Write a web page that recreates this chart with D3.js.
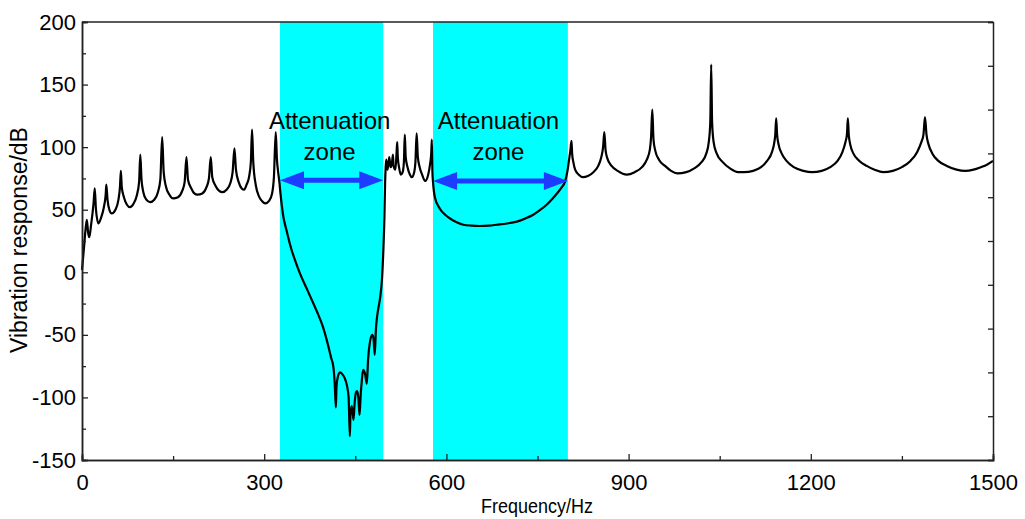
<!DOCTYPE html>
<html>
<head>
<meta charset="utf-8">
<script src="https://cdn.jsdelivr.net/npm/d3@7"></script>
<style>
  body { margin: 0; background: #fff; }
  svg text { font-family: "Liberation Sans", Arial, Helvetica, sans-serif; }
</style>
</head>
<body>
<div id="chart"></div>
<script>
// frequency bands where the response drops (Hz)
const bands = [[326, 496], [578, 800]]

// response curve, [Hz, dB]
const lowBand = [
  [0, 2], [3, 18], [6, 35], [8, 42], [10, 32], [12, 28], [15, 38], [19, 55], [21, 67], [23, 50],
  [27, 39], [31, 43], [36, 52], [39, 62], [40, 70], [42, 58], [45, 50], [49, 47], [55, 50], [60, 58],
  [62.5, 68], [64, 81], [65.5, 68], [69, 60], [74, 54], [79, 52], [85, 55], [90, 61], [94, 72], [96, 94],
  [98, 74], [101, 64], [106, 58], [112, 56], [119, 58], [125, 64], [129, 74], [132, 108], [134.5, 80], [138, 69],
  [144, 62], [150, 59], [158, 60], [165, 65], [169, 72], [172, 92], [174.5, 74], [180, 67], [185, 63], [190, 62],
  [198, 63], [205, 68], [209, 75], [212, 92], [214.5, 76], [220, 69], [226, 65], [231, 64], [238, 66], [244, 71],
  [248, 80], [251, 99], [253.5, 82], [258, 72], [263, 67], [267, 66], [271, 70], [275, 76], [278, 88], [280, 114],
  [282, 88], [286, 70], [292, 60], [298, 56], [302, 55], [308, 57], [313, 63], [316, 76], [319, 112]
]
const zone1 = [
  [321, 90], [323, 80], [325, 72], [327, 62], [331, 46], [337, 33], [345, 18], [352, 8], [359, -1], [370, -13],
  [381, -25], [390, -35], [397, -44], [404, -56], [410, -68], [414, -76], [416, -88], [418, -108], [419, -92], [421, -84],
  [425, -80], [428, -81], [432, -84], [436, -90], [439, -100], [441, -131], [442, -114], [444, -107], [445, -109], [447, -118],
  [449, -104], [451, -96], [453, -95], [455, -100], [457, -114], [459, -97], [461, -85], [463, -78], [466, -81], [469, -89],
  [471, -70], [474, -56], [478, -50], [480, -53], [482, -66], [484, -45], [486, -35], [489, -26], [491, -20], [494, -5],
  [496, 15], [498, 45]
]
const gap = [
  [499, 70], [500, 84], [501, 90], [502, 86], [503, 82], [505, 88], [506, 92], [508, 84], [510, 86], [512, 94],
  [513, 85], [516, 82], [518, 96], [519, 104], [520, 92], [522, 84], [525, 78], [528, 80], [530, 88], [531.5, 110],
  [533, 92], [536, 84], [540, 78], [543, 76], [547, 80], [549, 88], [551, 111], [553, 92], [556, 84], [560, 78],
  [565, 73], [570, 78], [573, 86], [575, 95], [576, 106]
]
const zone2 = [
  [577, 80], [578, 72], [581, 60], [589, 51], [598, 46], [606, 43], [617, 40], [628, 38], [641, 37.3], [655, 37],
  [670, 37.3], [683, 38], [700, 39], [716, 40.5], [730, 43], [743, 46], [755, 50], [765, 54], [775, 59], [782, 63],
  [790, 68], [795, 72], [799, 80], [802, 90], [804, 97]
]
const highBand = [
  [806, 105], [807, 95], [809, 88], [812, 82], [818, 78], [825, 76], [833, 77], [842, 80], [850, 85], [855, 92],
  [858, 100], [860, 112], [862, 98], [865, 91], [872, 85], [882, 81], [897, 78], [910, 80], [922, 84], [930, 90],
  [935, 98], [937, 108], [939, 130], [941, 106], [944, 97], [950, 90], [960, 85], [970, 81], [980, 79], [995, 80],
  [1008, 83], [1020, 88], [1028, 95], [1032, 104], [1034.5, 120], [1036, 166], [1037.5, 120], [1040, 104], [1045, 95], [1055, 88],
  [1067, 83], [1080, 80], [1090, 80], [1105, 81], [1118, 84], [1128, 89], [1136, 96], [1140, 104], [1141.5, 110], [1143, 123],
  [1144.5, 110], [1147, 102], [1152, 95], [1160, 89], [1172, 84], [1188, 81], [1202, 80], [1218, 81], [1232, 84], [1244, 89],
  [1252, 96], [1257, 104], [1259.5, 110], [1261, 123], [1262.5, 110], [1265, 102], [1270, 95], [1280, 89], [1292, 85], [1305, 82],
  [1319, 80], [1335, 81], [1350, 84], [1364, 89], [1375, 96], [1382, 104], [1385.5, 110], [1388, 124], [1390.5, 110], [1394, 102],
  [1400, 95], [1410, 89], [1424, 85], [1440, 82], [1454, 81], [1468, 82], [1480, 84], [1490, 86], [1500, 89]
]

const xTicks = [0, 300, 600, 900, 1200, 1500]
const yTicks = [-150, -100, -50, 0, 50, 100, 150, 200]
const arrowLevels = [73.5, 73]

//------------------------------------------------------------------------------

const margin = { top: 22, right: 32, bottom: 59, left: 82 }
const width = 1025 - margin.left - margin.right
const height = 519 - margin.top - margin.bottom

const svg = d3.select("#chart")
  .append("svg")
  .attr("width", 1025)
  .attr("height", 519)

const g = svg.append("g")
  .attr("transform", "translate(" + margin.left + "," + margin.top + ")")

const x = d3.scaleLinear().domain([0, 1500]).range([0, width])
const y = d3.scaleLinear().domain([-150, 200]).range([height, 0])

// cyan attenuation bands
g.selectAll(".band")
  .data(bands)
  .join("rect")
  .attr("class", "band")
  .attr("x", d => x(d[0]))
  .attr("y", 0)
  .attr("width", d => x(d[1]) - x(d[0]))
  .attr("height", height)
  .attr("fill", "#00ffff")

// response curve
const curve = lowBand.concat(zone1, gap, zone2, highBand)
const line = d3.line()
  .x(d => x(d[0]))
  .y(d => y(d[1]))
  .curve(d3.curveMonotoneX)

g.append("path")
  .datum(curve)
  .attr("d", line)
  .attr("fill", "none")
  .attr("stroke", "#000")
  .attr("stroke-width", 2.2)
  .attr("stroke-linejoin", "round")

//------------------------------------------------------------------------------

// axes, ticks pointing inward
const axisColor = "#222"

const xAxis = g.append("g")
  .attr("transform", "translate(0," + height + ")")
  .call(d3.axisBottom(x).tickValues(xTicks).tickSize(-6).tickPadding(14).tickFormat(d3.format("d")))
xAxis.append("g")
  .call(d3.axisBottom(x).tickValues(d3.range(150, 1500, 300)).tickSize(-4).tickFormat(""))

const yAxis = g.append("g")
  .call(d3.axisLeft(y).tickValues(yTicks).tickSize(-6).tickPadding(6).tickFormat(d => String(d)))
yAxis.append("g")
  .call(d3.axisLeft(y).tickValues(d3.range(-125, 200, 50)).tickSize(-4).tickFormat(""))

// right side: ticks every 35 dB, no labels
g.append("g")
  .attr("transform", "translate(" + width + ",0)")
  .call(d3.axisRight(y).tickValues(d3.range(-150, 201, 35)).tickSize(-5).tickFormat(""))

// top border
g.append("line")
  .attr("x1", 0).attr("x2", width)
  .attr("y1", 0).attr("y2", 0)
  .attr("stroke", axisColor).attr("stroke-width", 1.5)

g.selectAll(".domain").attr("stroke", axisColor).attr("stroke-width", 1.5)
g.selectAll(".tick line").attr("stroke", axisColor).attr("stroke-width", 1.3)
g.selectAll(".tick text").attr("font-size", 22).attr("fill", "#000")

// axis titles (x title is a little condensed in the original)
svg.append("text")
  .attr("text-anchor", "middle")
  .attr("x", 537)
  .attr("y", 513)
  .attr("font-size", 21)
  .attr("textLength", 112)
  .attr("lengthAdjust", "spacingAndGlyphs")
  .text("Frequency/Hz")

svg.append("text")
  .attr("text-anchor", "middle")
  .attr("transform", "translate(27,240) rotate(-90)")
  .attr("font-size", 23)
  .text("Vibration response/dB")

//------------------------------------------------------------------------------

// double headed arrows across each band
const arrowColor = "#1e3cff"
const headLen = 24
const headHalf = 9

bands.forEach((b, i) => {
  const x0 = x(b[0]), x1 = x(b[1]), yy = y(arrowLevels[i])
  g.append("line")
    .attr("x1", x0 + headLen - 2).attr("x2", x1 - headLen + 2)
    .attr("y1", yy).attr("y2", yy)
    .attr("stroke", arrowColor)
    .attr("stroke-width", 5)
  g.append("path")
    .attr("d", "M" + x0 + "," + yy + "L" + (x0 + headLen) + "," + (yy - headHalf) + "L" + (x0 + headLen) + "," + (yy + headHalf) + "Z")
    .attr("fill", arrowColor)
  g.append("path")
    .attr("d", "M" + x1 + "," + yy + "L" + (x1 - headLen) + "," + (yy - headHalf) + "L" + (x1 - headLen) + "," + (yy + headHalf) + "Z")
    .attr("fill", arrowColor)

  const cx = (x0 + x1) / 2 - 2
  g.append("text")
    .attr("text-anchor", "middle")
    .attr("x", cx)
    .attr("y", 107)
    .attr("font-size", 24)
    .text("Attenuation")
  g.append("text")
    .attr("text-anchor", "middle")
    .attr("x", cx)
    .attr("y", 138)
    .attr("font-size", 24)
    .text("zone")
})
</script>
</body>
</html>
